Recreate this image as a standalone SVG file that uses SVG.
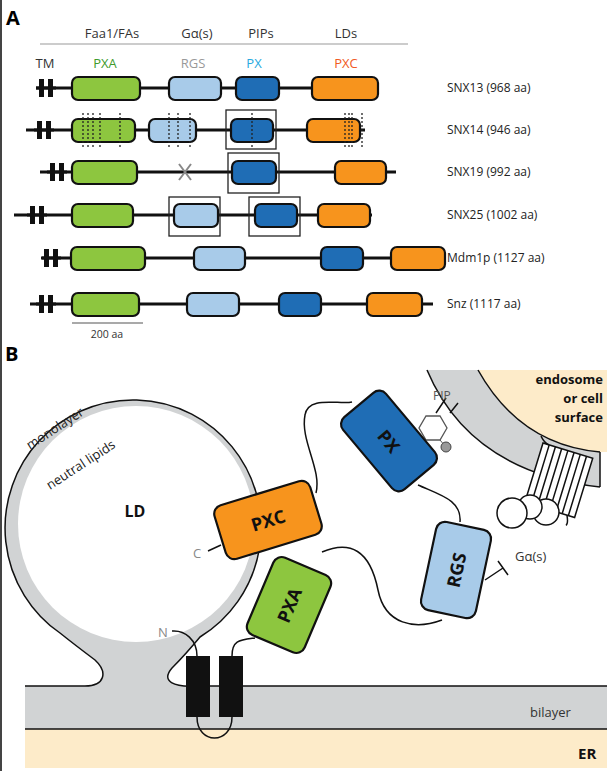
<svg xmlns="http://www.w3.org/2000/svg" width="607" height="771" viewBox="0 0 607 771">
<style>
text{font-family:"Open Sans","Liberation Sans",sans-serif;}
.h{font-size:13px;fill:#333;text-anchor:middle}
.lbl{font-size:12px;fill:#222}
.bb{stroke:#111;stroke-width:2.2}
.g{fill:#8dc63f}.lb{fill:#a8cbe9}.db{fill:#1f6db5}.o{fill:#f7941d}
.ln{stroke:#111;stroke-width:3;fill:none}
.dot{stroke:#222;stroke-width:1.3;stroke-dasharray:2 2}
.box{fill:none;stroke:#222;stroke-width:1.3}
.big{font-weight:bold;font-size:18px;text-anchor:middle;fill:#111}
.cur{fill:none;stroke:#111;stroke-width:1.5}
</style>
<rect width="607" height="771" fill="#fff"/>
<line x1="1" y1="0" x2="1" y2="771" stroke="#444" stroke-width="2"/>
<g id="panelA">
<text x="6" y="25" font-size="20" font-weight="bold" font-family="Liberation Sans,sans-serif">A</text>
<text class="h" x="112" y="38">Faa1/FAs</text><text class="h" x="197" y="38">Gα(s)</text><text class="h" x="261" y="38">PIPs</text><text class="h" x="346" y="38">LDs</text>
<line x1="40" y1="44" x2="408" y2="44" stroke="#bbb" stroke-width="1.5"/>
<text class="h" x="45" y="68" fill="#222">TM</text>
<text class="h" x="105" y="68" style="fill:#3f9b2d">PXA</text>
<text class="h" x="193" y="68" style="fill:#999">RGS</text>
<text class="h" x="254" y="68" style="fill:#2aa9e0">PX</text>
<text class="h" x="346" y="68" style="fill:#f15a24">PXC</text>
</g>
<g id="tm-defs"><defs><g id="tm"><rect x="-7" y="-9" width="5" height="18" fill="#111"/><rect x="2" y="-9" width="5" height="18" fill="#111"/><rect x="-10" y="-1.5" width="20" height="3" fill="#111"/></g></defs></g>
<g id="snx13"><line class="ln" x1="36" y1="88" x2="378" y2="88"/><use href="#tm" x="46" y="88"/>
<rect class="g bb" x="72" y="77" width="68" height="23" rx="6"/><rect class="lb bb" x="169" y="77" width="52" height="23" rx="6"/><rect class="db bb" x="236" y="77" width="43" height="23" rx="6"/><rect class="o bb" x="312" y="77" width="66" height="23" rx="6"/>
<text class="lbl" x="447" y="92">SNX13 (968 aa)</text></g>
<g id="snx14"><line class="ln" x1="26" y1="130" x2="365" y2="130"/><use href="#tm" x="44" y="130"/>
<rect class="g bb" x="72" y="119" width="63" height="23" rx="6"/><rect class="lb bb" x="149" y="119" width="47" height="23" rx="6"/><rect class="db bb" x="231" y="119" width="42" height="23" rx="6"/><rect class="o bb" x="307" y="119" width="53" height="23" rx="6"/>
<rect class="box" x="226" y="110" width="50" height="39"/>
<g class="dot"><line x1="83" y1="113" x2="83" y2="147"/><line x1="88" y1="113" x2="88" y2="147"/><line x1="93" y1="113" x2="93" y2="147"/><line x1="100" y1="113" x2="100" y2="147"/><line x1="120" y1="113" x2="120" y2="147"/><line x1="169" y1="113" x2="169" y2="147"/><line x1="178" y1="113" x2="178" y2="147"/><line x1="190" y1="113" x2="190" y2="147"/><line x1="252" y1="113" x2="252" y2="147"/><line x1="345" y1="113" x2="345" y2="147"/><line x1="349" y1="113" x2="349" y2="147"/><line x1="352" y1="113" x2="352" y2="147"/><line x1="362" y1="113" x2="362" y2="147"/></g>
<text class="lbl" x="447" y="134">SNX14 (946 aa)</text></g>
<g id="snx19"><line class="ln" x1="40" y1="172" x2="396" y2="172"/><use href="#tm" x="57" y="172"/>
<rect class="g bb" x="72" y="161" width="65" height="23" rx="6"/><rect class="db bb" x="232" y="161" width="44" height="23" rx="6"/><rect class="o bb" x="335" y="161" width="51" height="23" rx="6"/>
<rect class="box" x="228" y="153" width="51" height="40"/>
<path d="M179,164 L191,180 M191,164 L179,180" stroke="#888" stroke-width="2"/>
<text class="lbl" x="447" y="176">SNX19 (992 aa)</text></g>
<g id="snx25"><line class="ln" x1="14" y1="215" x2="372" y2="215"/><use href="#tm" x="37" y="215"/>
<rect class="g bb" x="72" y="204" width="61" height="23" rx="6"/><rect class="lb bb" x="174" y="204" width="44" height="23" rx="6"/><rect class="db bb" x="255" y="204" width="42" height="23" rx="6"/><rect class="o bb" x="318" y="204" width="52" height="23" rx="6"/>
<rect class="box" x="169" y="197" width="51" height="39"/><rect class="box" x="249" y="197" width="51" height="39"/>
<text class="lbl" x="447" y="219">SNX25 (1002 aa)</text></g>
<g id="mdm1p"><line class="ln" x1="42" y1="258" x2="445" y2="258"/><use href="#tm" x="51" y="258"/>
<rect class="g bb" x="71" y="247" width="74" height="23" rx="6"/><rect class="lb bb" x="194" y="247" width="51" height="23" rx="6"/><rect class="db bb" x="321" y="247" width="42" height="23" rx="6"/><rect class="o bb" x="391" y="247" width="54" height="23" rx="6"/>
<text class="lbl" x="447" y="262">Mdm1p (1127 aa)</text></g>
<g id="snz"><line class="ln" x1="30" y1="304" x2="433" y2="304"/><use href="#tm" x="46" y="304"/>
<rect class="g bb" x="72" y="293" width="67" height="23" rx="6"/><rect class="lb bb" x="187" y="293" width="52" height="23" rx="6"/><rect class="db bb" x="279" y="293" width="42" height="23" rx="6"/><rect class="o bb" x="367" y="293" width="55" height="23" rx="6"/>
<text class="lbl" x="447" y="308">Snz (1117 aa)</text></g>
<g id="scale"><line x1="72" y1="323" x2="143" y2="323" stroke="#555" stroke-width="1.2"/><text x="107" y="338" font-size="10.5" text-anchor="middle" fill="#333">200 aa</text></g>

<g id="panelB">
<text x="5" y="361" font-size="20" font-weight="bold" font-family="Liberation Sans,sans-serif">B</text>
<rect x="25" y="729" width="582" height="39" fill="#fdebc9"/>
<g id="endosome">
<path d="M478,370 L607,370 L607,452 L600,452 Q520,445 478,370 Z" fill="#fdebc9"/>
<path d="M427,370 L478,370 Q520,445 600,452 L600,487 Q470,472 427,370 Z" fill="#d1d3d4"/>
<path d="M478,370 Q520,445 600,452 M427,370 Q470,472 600,487 M600,452 L600,487" class="cur"/>
<text x="603" y="384" font-size="13" font-weight="bold" text-anchor="end" fill="#111">endosome</text>
<text x="603" y="403" font-size="13" font-weight="bold" text-anchor="end" fill="#111">or cell</text>
<text x="603" y="422" font-size="13" font-weight="bold" text-anchor="end" fill="#111">surface</text>
</g>
<g id="ld">
<path d="M25,686 L85,686 C105,686 108,672 95,660 Q75,645 60,633 A128,128 0 1 1 200,637 Q185,655 172,668 C160,682 175,687 195,686 L607,686 L607,729 L25,729 Z" fill="#d1d3d4"/>
<path d="M25,686 L85,686 C105,686 108,672 95,660 Q75,645 60,633 A128,128 0 1 1 200,637 Q185,655 172,668 C160,682 175,687 195,686 L607,686" class="cur"/>
<line x1="25" y1="729" x2="607" y2="729" class="cur"/>
<circle cx="136" cy="524" r="118" fill="#fff"/>
<text x="0" y="0" font-size="13" fill="#222" transform="translate(30,450) rotate(-33)">monolayer</text>
<text x="0" y="0" font-size="13" fill="#222" transform="translate(50,490) rotate(-33)">neutral lipids</text>
<text x="135" y="517" font-size="16" font-weight="bold" text-anchor="middle" fill="#111">LD</text>
<text x="530" y="717" font-size="13" fill="#333">bilayer</text>
<text x="578" y="759" font-size="15" font-weight="bold" fill="#111">ER</text>
</g>
<g id="tmB">
<path d="M172,631 C185,630 197,640 197,656 M197,717 C197,745 232,745 232,717 M232,656 C232,640 240,640 255,638" class="cur"/>
<rect x="186" y="656" width="24" height="61" fill="#111"/><rect x="219" y="656" width="24" height="61" fill="#111"/>
<text x="158" y="637" font-size="13" fill="#888">N</text>
</g>
<g id="connectors">
<path d="M316,493 C322,470 300,440 305,415 C308,395 340,405 352,402" class="cur"/>
<path d="M418,485 C440,495 462,500 460,522" class="cur"/>
<path d="M322,552 C350,540 370,550 378,590 C385,625 415,630 442,620" class="cur"/>
<path d="M208,551 L221,545" class="cur"/>
<path d="M485,580 L503,568 M498,561 L508,575" class="cur"/>
<path d="M436,413 L446,398 M450,413 L458,403" class="cur"/>
</g>
<text x="193" y="558" font-size="13" fill="#888">C</text>
<text x="515" y="561" font-size="13" fill="#333">Gα(s)</text>
<text x="433" y="400" font-size="12" fill="#555">PIP</text>
<g id="pip"><polygon points="447,428 440,440 426,440 419,428 426,416 440,416" fill="#fff" stroke="#555" stroke-width="1.3"/><line x1="440" y1="440" x2="445" y2="446" stroke="#555"/><circle cx="446" cy="447" r="5" fill="#999" stroke="#444"/></g>
<g id="receptor" transform="translate(543,443) rotate(17)">
<rect x="0" y="0" width="52" height="62" fill="#fff" stroke="#111" stroke-width="1.5"/>
<path d="M6.5,0V62M13,0V62M19.5,0V62M26,0V62M32.5,0V62M39,0V62M45.5,0V62" stroke="#111" stroke-width="1.5"/>
<path d="M-4,-6 C0,-2 4,0 6,0 M44,62 C46,66 48,70 46,72" class="cur"/>
</g>
<g id="gprotein"><circle cx="546" cy="512" r="13" fill="#fff" stroke="#111" stroke-width="1.5"/><circle cx="530" cy="507" r="12" fill="#fff" stroke="#111" stroke-width="1.5"/><circle cx="512" cy="513" r="15" fill="#fff" stroke="#111" stroke-width="1.5"/></g>
<g id="PXC" transform="translate(268,520) rotate(-17)"><rect x="-50" y="-28" width="100" height="56" rx="9" class="o bb"/><text class="big" y="7">PXC</text></g>
<g id="PXA" transform="translate(289,605) rotate(-67)"><rect x="-42" y="-31" width="84" height="62" rx="9" class="g bb"/><text class="big" y="7">PXA</text></g>
<g id="PX" transform="translate(389,441) rotate(50)"><rect x="-47" y="-28" width="94" height="56" rx="9" class="db bb"/><text class="big" y="7">PX</text></g>
<g id="RGS" transform="translate(456,570) rotate(12)"><rect x="-28" y="-45" width="56" height="90" rx="9" class="lb bb"/><text class="big" y="7" transform="rotate(-90)">RGS</text></g>
</g>
</svg>
